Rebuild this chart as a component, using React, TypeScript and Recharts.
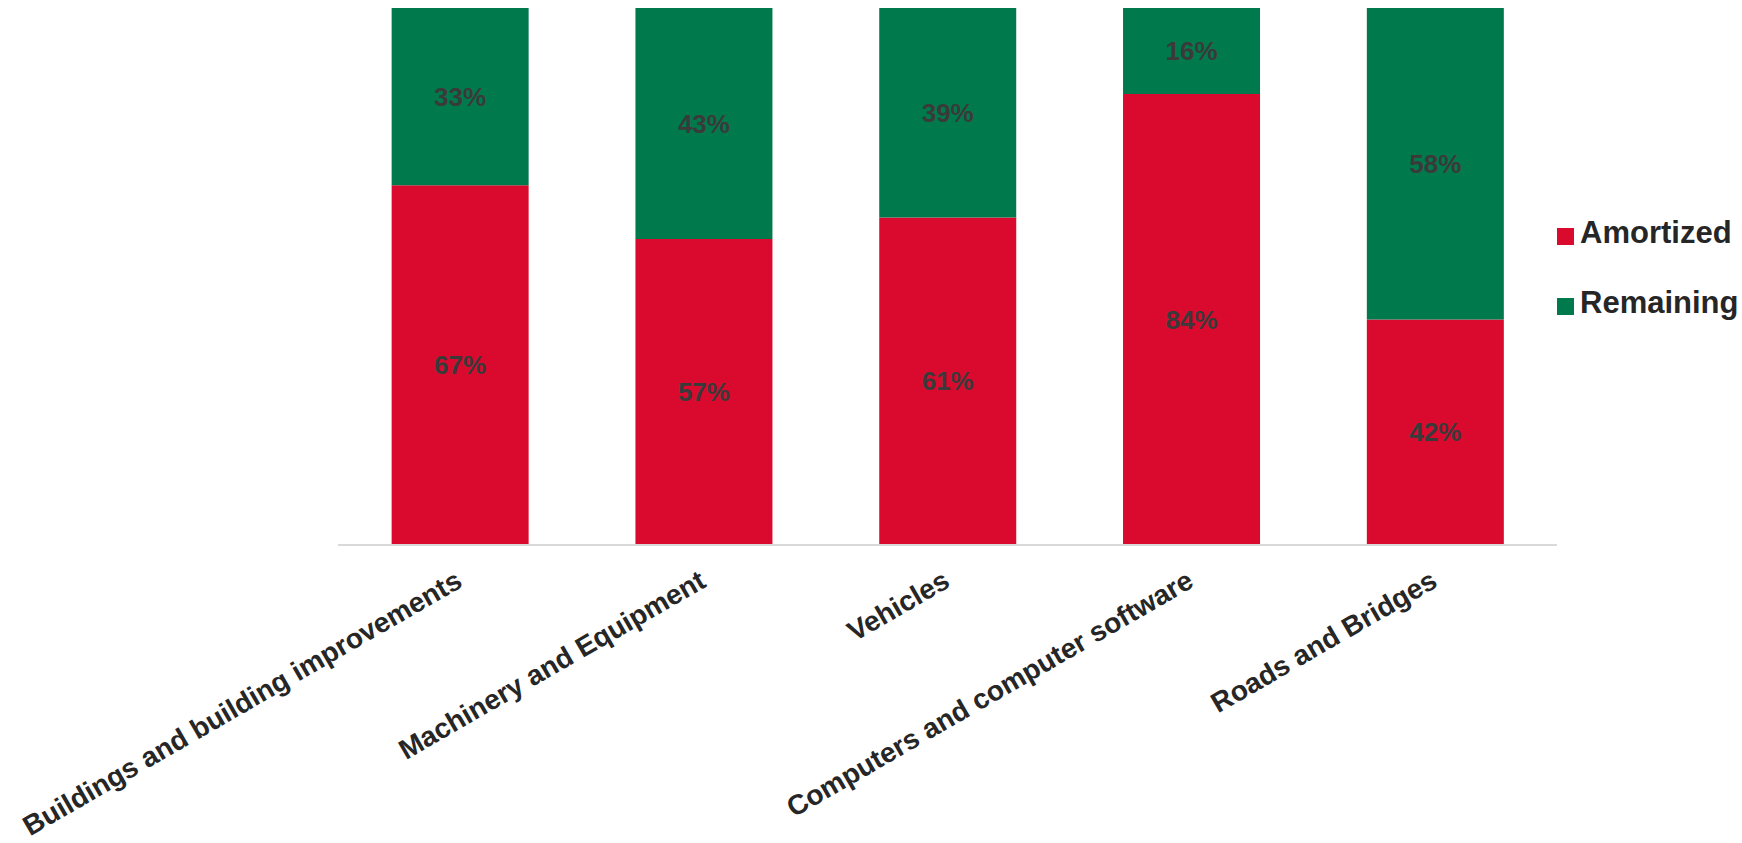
import React from "react";
import { BarChart, Bar, XAxis, YAxis, LabelList } from "recharts";

const categories = [
  "Buildings and building improvements",
  "Machinery and Equipment",
  "Vehicles",
  "Computers and computer software",
  "Roads and Bridges",
];
const amortized = [67, 57, 61, 84, 42];
const remaining = [33, 43, 39, 16, 58];
const seriesNames = ["Amortized", "Remaining"];

const RED = "#DA0A2E";
const GREEN = "#007A4D";
const FONT = "'Liberation Sans', Arial, sans-serif";

const data = categories.map((c, i) => ({
  name: c,
  Amortized: amortized[i],
  Remaining: remaining[i],
}));

const Tick = (props: any) => {
  const { x, y, payload } = props;
  return (
    <g transform={`translate(${x + 4},${y + 41})`}>
      <text
        x={0}
        y={0}
        textAnchor="end"
        transform="rotate(-30)"
        fontFamily={FONT}
        fontWeight="bold"
        fontSize={28}
        fill="#262626"
      >
        {payload.value}
      </text>
    </g>
  );
};

const LegendBox = () => {
  const colors = [RED, GREEN];
  return (
    <div
      style={{
        position: "absolute",
        left: 1557,
        top: 198,
        width: 185,
        fontFamily: FONT,
      }}
    >
      {seriesNames.map((n, i) => (
        <div key={n} style={{ display: "flex", alignItems: "center", height: 70 }}>
          <div
            style={{
              width: 17,
              height: 17,
              background: colors[i],
              marginTop: 6,
              marginRight: 6,
            }}
          />
          <span
            style={{
              fontSize: 31,
              fontWeight: "bold",
              color: "#262626",
              lineHeight: "34px",
            }}
          >
            {n}
          </span>
        </div>
      ))}
    </div>
  );
};

export default function App() {
  return (
    <div
      style={{
        position: "absolute",
        left: 0,
        top: 0,
        width: 1742,
        height: 843,
        background: "#fff",
      }}
    >
      <BarChart
        width={1742}
        height={843}
        data={data}
        margin={{ top: 8, right: 185, left: 338, bottom: 0 }}
        barCategoryGap="22%"
      >
        <XAxis
          dataKey="name"
          height={298}
          tickLine={false}
          tickSize={0}
          tickMargin={0}
          axisLine={{ stroke: "#d9d9d9", strokeWidth: 2 }}
          tick={<Tick />}
          interval={0}
        />
        <YAxis hide domain={[0, 100]} />
        <Bar dataKey="Amortized" stackId="a" fill={RED} isAnimationActive={false}>
          <LabelList
            dataKey="Amortized"
            position="center"
            formatter={(v: any) => `${v}%`}
            fill="#3a3a3a"
            fontSize={26}
            fontWeight="bold"
            fontFamily={FONT}
          />
        </Bar>
        <Bar dataKey="Remaining" stackId="a" fill={GREEN} isAnimationActive={false}>
          <LabelList
            dataKey="Remaining"
            position="center"
            formatter={(v: any) => `${v}%`}
            fill="#3a3a3a"
            fontSize={26}
            fontWeight="bold"
            fontFamily={FONT}
          />
        </Bar>
      </BarChart>
      <LegendBox />
    </div>
  );
}
